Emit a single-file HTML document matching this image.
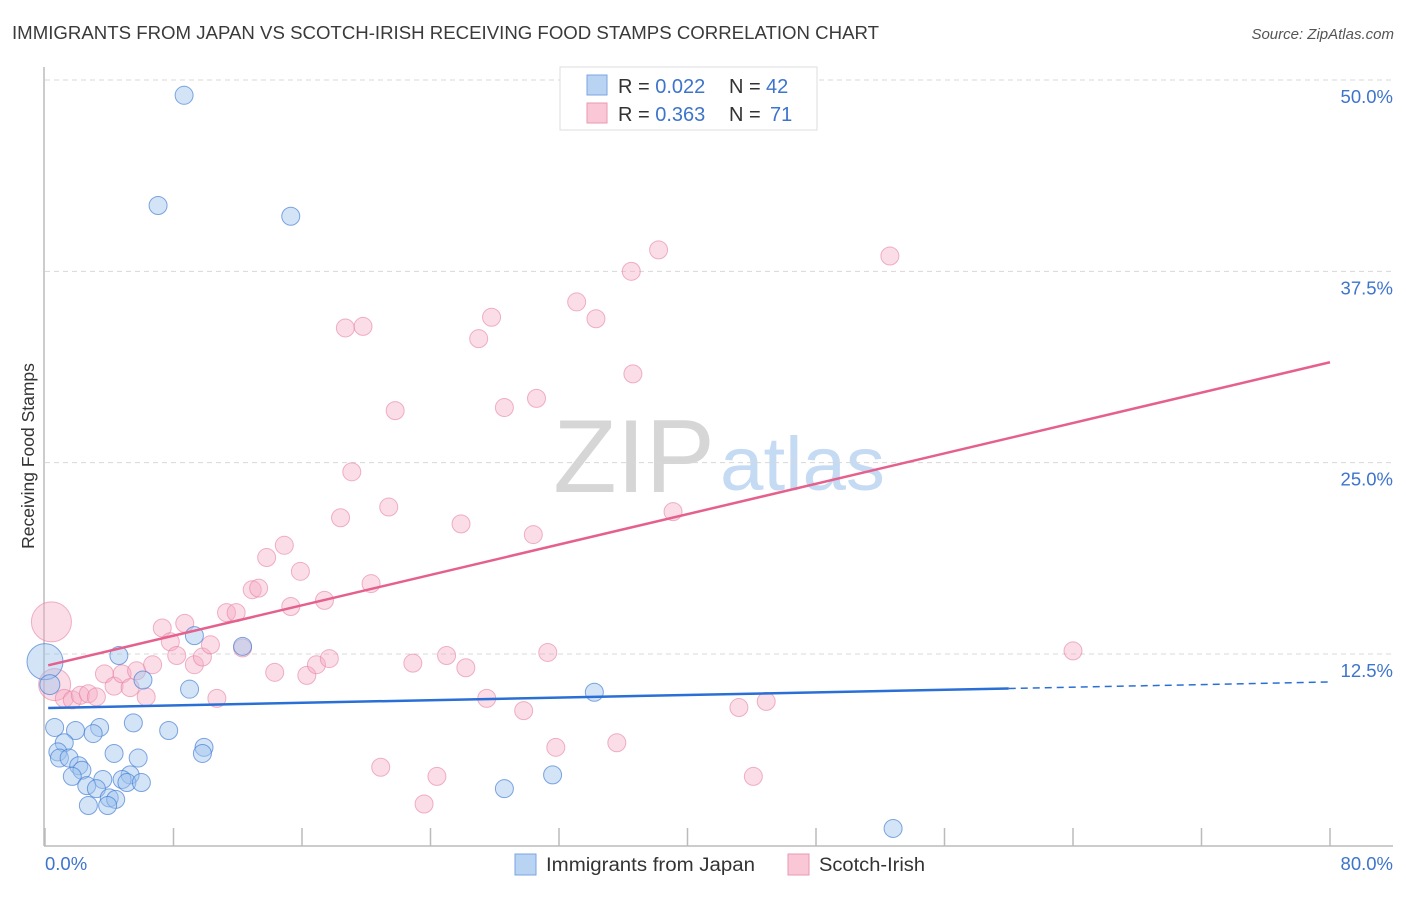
<!DOCTYPE html>
<html><head><meta charset="utf-8"><style>
body{margin:0;background:#fff;font-family:"Liberation Sans",sans-serif}
svg text{font-family:"Liberation Sans",sans-serif}
</style></head><body>
<svg id="chart" width="1406" height="892" viewBox="0 0 1406 892" xmlns="http://www.w3.org/2000/svg">
<text x="12" y="39" font-size="18" fill="#3a3a3a" textLength="867" lengthAdjust="spacingAndGlyphs">IMMIGRANTS FROM JAPAN VS SCOTCH-IRISH RECEIVING FOOD STAMPS CORRELATION CHART</text>
<text x="1394" y="39" font-size="15" fill="#555" text-anchor="end" font-style="italic">Source: ZipAtlas.com</text>
<g>
<text x="634" y="492" font-size="104" fill="#d6d6d6" font-family="Liberation Serif, serif" text-anchor="middle">ZIP</text>
<text x="720" y="490" font-size="76" fill="#c5daf3" textLength="165" lengthAdjust="spacingAndGlyphs">atlas</text>
</g>
<g id="grid"></g><g id="axes"></g><g id="marks"></g>
<text transform="translate(34,456) rotate(-90)" font-size="17.5" fill="#333" text-anchor="middle">Receiving Food Stamps</text>
<g>
<rect x="560" y="67" width="257" height="63" fill="#fff" stroke="#ddd"/>
<rect x="587" y="75" width="20" height="20" fill="#b9d3f3" stroke="#7aa6e0"/>
<rect x="587" y="103" width="20" height="20" fill="#f9c7d6" stroke="#ea9ab2"/>
<text x="618" y="93" font-size="20" fill="#333">R = <tspan fill="#3d74cc">0.022</tspan><tspan x="729">N = </tspan><tspan x="766" fill="#3d74cc">42</tspan></text>
<text x="618" y="121" font-size="20" fill="#333">R = <tspan fill="#3d74cc">0.363</tspan><tspan x="729">N = </tspan><tspan x="770" fill="#3d74cc">71</tspan></text>
</g>
<g>
<rect x="515" y="854" width="21" height="21" fill="#b9d3f3" stroke="#7aa6e0"/>
<text x="546" y="871" font-size="19" fill="#333" textLength="209" lengthAdjust="spacingAndGlyphs">Immigrants from Japan</text>
<rect x="788" y="854" width="21" height="21" fill="#f9c7d6" stroke="#ea9ab2"/>
<text x="819" y="871" font-size="19" fill="#333" textLength="106" lengthAdjust="spacingAndGlyphs">Scotch-Irish</text>
</g>
</svg>
<script>
const xTicks=[0,10,20,30,40,50,60,70,80];
const yTicks=[12.5,25,37.5,50];
const yTickLabels=["12.5%","25.0%","37.5%","50.0%"];
const japanX=[8.66,7.04,15.3,0,0.3,4.6,9.3,12.3,6.1,9.0,34.2,0.6,1.9,3.4,3.0,5.5,7.7,1.2,0.8,0.9,1.5,4.3,5.8,9.9,9.8,2.1,2.3,1.7,3.6,2.6,3.2,5.3,4.8,5.1,6.0,4.0,4.4,2.7,3.9,31.6,28.6,52.8];
const japanY=[49.0,41.8,41.1,12.0,10.5,12.4,13.7,13.0,10.8,10.2,10.0,7.7,7.5,7.7,7.3,8.0,7.5,6.7,6.1,5.7,5.7,6.0,5.7,6.4,6.0,5.2,4.9,4.5,4.3,3.9,3.7,4.6,4.3,4.1,4.1,3.1,3.0,2.6,2.6,4.6,3.7,1.1];
const japanR=[9,9,9,18,10,9,9,9,9,9,9,9,9,9,9,9,9,9,9,9,9,9,9,9,9,9,9,9,9,9,9,9,9,9,9,9,9,9,9,9,9,9];
const scotX=[0.4,0.6,1.2,1.7,2.2,2.7,3.2,3.7,4.3,4.8,5.3,5.7,6.3,6.7,7.3,7.8,8.2,8.7,9.3,9.8,10.3,10.7,11.3,11.9,12.3,12.9,13.3,13.8,14.3,14.9,15.3,15.9,16.3,16.9,17.4,17.7,18.4,18.7,19.8,19.1,20.3,20.9,21.4,21.8,22.9,23.6,24.4,25.0,25.9,26.2,27.0,27.5,27.8,28.6,29.8,30.4,30.6,31.3,31.8,33.1,34.3,35.6,36.5,36.6,38.2,39.1,43.2,44.1,44.9,52.6,64.0];
const scotY=[14.6,10.5,9.6,9.5,9.8,9.9,9.7,11.2,10.4,11.2,10.3,11.4,9.7,11.8,14.2,13.3,12.4,14.5,11.8,12.3,13.1,9.6,15.2,15.2,12.9,16.7,16.8,18.8,11.3,19.6,15.6,17.9,11.1,11.8,16.0,12.2,21.4,33.8,33.9,24.4,17.1,5.1,22.1,28.4,11.9,2.7,4.5,12.4,21.0,11.6,33.1,9.6,34.5,28.6,8.8,20.3,29.2,12.6,6.4,35.5,34.4,6.7,37.5,30.8,38.9,21.8,9.0,4.5,9.4,38.5,12.7];
const scotR=[20,16,9,9,9,9,9,9,9,9,9,9,9,9,9,9,9,9,9,9,9,9,9,9,9,9,9,9,9,9,9,9,9,9,9,9,9,9,9,9,9,9,9,9,9,9,9,9,9,9,9,9,9,9,9,9,9,9,9,9,9,9,9,9,9,9,9,9,9,9,9];
const japanTrend=[8.97,10.67];
const scotTrend=[11.71,31.56];
const NS="http://www.w3.org/2000/svg";
const X=v=>45+v*(1330-45)/80;
const Y=v=>845.3-v*(845.3-80)/50;
function mk(tag,attrs,parent){const e=document.createElementNS(NS,tag);for(const k in attrs)e.setAttribute(k,attrs[k]);parent.appendChild(e);return e;}
const grid=document.getElementById('grid'),axes=document.getElementById('axes'),marks=document.getElementById('marks');
yTicks.forEach((t,i)=>{
 const l=mk('line',{x1:45,x2:1393,y1:Y(t),y2:Y(t),stroke:'#d8d8d8','stroke-dasharray':'5,4'},grid);
 
 
 const tx=mk('text',{x:1393,y:Y(t)+23,'font-size':18.5,fill:'#3d74cc','text-anchor':'end'},axes);
 tx.textContent=yTickLabels[i];
 
 
});
const ax=mk('line',{x1:44,x2:44,y1:67,y2:846,stroke:'#bbb','stroke-width':1.5},axes);


const bx=mk('line',{x1:44,x2:1393,y1:846,y2:846,stroke:'#bbb','stroke-width':1.5},axes);


for(let i=0;i<=10;i++){const v=i*8;
 const tk=mk('line',{x1:X(v),x2:X(v),y1:828,y2:846,stroke:'#bbb','stroke-width':1.5},axes);
 
 }
const x0=mk('text',{x:45,y:870,'font-size':18.5,fill:'#3d74cc'},axes);x0.textContent='0.0%';


const x1=mk('text',{x:1393,y:870,'font-size':18.5,fill:'#3d74cc','text-anchor':'end'},axes);x1.textContent='80.0%';


scotX.forEach((v,i)=>{const c=mk('circle',{cx:X(v),cy:Y(scotY[i]),r:scotR[i],fill:'rgba(246,170,194,0.4)',stroke:'rgba(230,130,160,0.6)'},marks);
 
 });
japanX.forEach((v,i)=>{const c=mk('circle',{cx:X(v),cy:Y(japanY[i]),r:japanR[i],fill:'rgba(160,196,238,0.45)',stroke:'rgba(60,120,210,0.65)'},marks);
 
 });
const jt=v=>japanTrend[0]+(japanTrend[1]-japanTrend[0])*v/80;
const st=v=>scotTrend[0]+(scotTrend[1]-scotTrend[0])*v/80;
const l1=mk('line',{x1:X(0.2),y1:Y(jt(0.2)),x2:X(60),y2:Y(jt(60)),stroke:'#2a6fd6','stroke-width':2.5},marks);


const l2=mk('line',{x1:X(60),y1:Y(jt(60)),x2:X(80),y2:Y(jt(80)),stroke:'#2a6fd6','stroke-width':1.5,'stroke-dasharray':'7,5'},marks);


const l3=mk('line',{x1:X(0.2),y1:Y(st(0.2)),x2:X(80),y2:Y(st(80)),stroke:'#e5608c','stroke-width':2.5},marks);


</script>
</body></html>
